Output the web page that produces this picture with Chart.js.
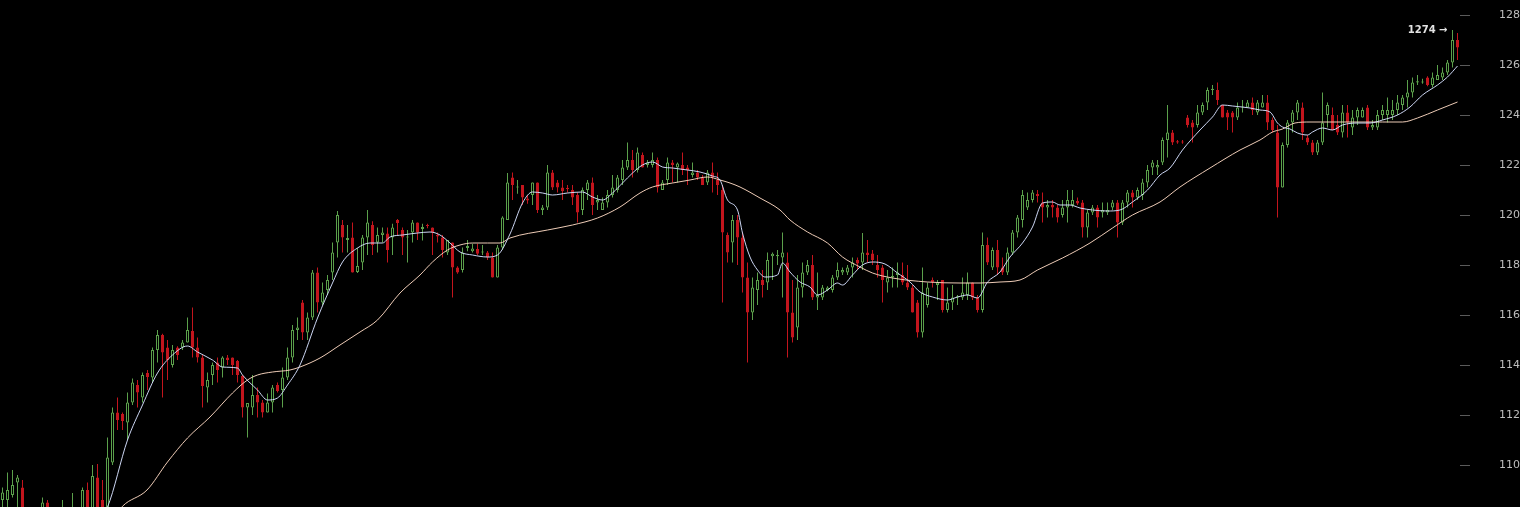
<!DOCTYPE html>
<html lang="en">
<head>
<meta charset="UTF-8">
<title>Price candles</title>
<script src="https://cdn.jsdelivr.net/npm/chart.js"></script>
<style>
  body { margin: 0; background: #000; overflow: hidden; }
  .wrap { width: 1520px; height: 507px; position: relative; }
</style>
</head>
<body>
<div class="wrap"><canvas id="chart"></canvas></div>
<script>
// OHLC per candle (index 0 = leftmost candle)
const opens = [
  1086,1086,1088,1093,1091,1082,1077,1079,1078,1085,
  1080,1077,1079,1082,1078,1081,1078,1090,1080,1095,
  1086,1082,1101,1121,1120.4,1117,1125,1132,1127,1136.8,
  1135,1146,1152,1147,1140,1147,1147,1149,1153.6,1147,
  1143,1131,1136,1141,1139,1143,1143,1141.6,1135.6,1123,
  1123,1128,1125,1121,1125,1132,1130,1135,1143,1154,
  1165,1153,1159,1177,1165,1170,1177,1189,1196,1190,
  1191,1177.2,1181,1191,1196,1189,1192,1192.6,1191,1198,
  1194,1191,1193,1197,1194.4,1196,1195,1192,1191,1185,
  1189,1179,1178,1186.8,1185.5,1186.4,1185,1185,1183,1175,
  1187,1198,1215,1211,1212,1206.6,1208,1213,1202,1203,
  1217,1213,1211,1210.8,1210,1208,1202,1210,1213,1205,
  1202,1205,1208,1210,1214,1219,1222,1218,1224,1220,
  1220,1222,1210,1214,1221,1219,1220,1219,1216,1217,
  1215,1213,1217,1214,1210,1192,1189,1198,1191,1175,
  1161,1170,1174,1173,1183.5,1183.5,1183,1181,1161,1155,
  1171,1177,1180,1167,1167,1170,1170,1175,1177,1177,
  1179,1182,1181,1185,1184.6,1180,1179,1173,1175,1176,
  1176,1173,1171,1165,1153,1164,1174,1172,1174,1162,
  1165,1167,1167,1168,1173,1167,1162,1188,1179,1186,
  1179,1177,1185,1193,1198,1203,1206,1208.4,1205,1203,
  1204,1203,1200,1203,1204,1205.6,1205,1195,1201,1203,
  1201,1201,1203,1205,1197,1205,1209,1207,1208,1213,
  1219,1219,1221,1230,1233,1229.5,1229.4,1239,1237,1236,
  1241,1245,1250,1250,1244,1241,1241,1239,1243,1243,
  1245,1241,1243,1245,1238,1233,1211,1228,1237,1241,
  1243,1231,1229,1225,1229,1240,1240,1236,1233,1241,
  1235,1239,1239,1243,1235,1235,1240,1240,1240,1242,
  1244,1247,1249,1253,1253,1255,1252,1254,1255,1257,
  1261,1270
];
const highs = [
  1091,1097,1098,1096,1094,1082.5,1081,1081,1087,1086,
  1081,1081,1086,1082.5,1088.8,1082,1091,1093,1100,1100.4,
  1094,1111,1123,1127,1121,1129,1134.6,1134,1137,1138,
  1147,1154,1152.5,1150,1148,1147.5,1150,1159,1163,1151,
  1144,1137,1141,1143,1143.5,1144,1143,1142,1136,1124.8,
  1136,1131,1126,1128.6,1132,1133,1139,1147,1156,1159,
  1166,1161,1178,1179,1173,1176,1189,1201.6,1198,1196,
  1197,1186.8,1192,1202,1197.5,1195,1195,1195,1196.5,1198.4,
  1195,1194,1198,1197,1196.5,1196.5,1195,1193,1192,1190,
  1189,1179.5,1187,1190,1188.5,1188.5,1188,1185.6,1185,1188,
  1199.5,1216.8,1217,1214,1212,1208,1213,1213,1204,1220,
  1218,1214,1214,1212,1212,1209,1211,1214,1215,1208,
  1207,1210,1216,1216,1222,1229,1226,1227,1225,1222,
  1225,1223,1214,1223,1222,1221,1225,1220,1221,1218,
  1216,1218,1221,1217,1212,1193,1200,1200,1193,1181,
  1175,1177,1178,1185,1185,1186,1193,1185,1174,1176,
  1181,1182,1184,1177,1172,1171.5,1176,1181,1179,1180,
  1183,1183,1192.8,1190,1186,1184,1180,1178,1179,1181,
  1181,1180,1172,1166,1179,1173,1175,1174,1174,1171,
  1172,1168,1175,1177,1173,1168,1193,1191,1187,1190,
  1183,1187,1194,1200,1210,1209,1210,1210,1209,1206,
  1206,1204,1206,1210,1210,1207,1206,1202,1204,1204,
  1205,1205,1206,1206,1206,1210,1210,1211,1214.5,1220,
  1222,1222,1231,1244,1234,1230,1230,1240,1238,1244,
  1245,1251,1252,1253,1244,1242,1241.6,1245,1246,1246,
  1247,1246,1248,1248,1239,1236,1229,1238,1242,1246,
  1245,1232,1230,1230,1249,1245,1243,1240,1244,1244,
  1242,1243,1243,1244,1238,1242,1244,1247,1246,1248,
  1248,1254,1255,1256,1254.5,1255.5,1257,1260,1259,1262,
  1274,1272.8
];
const lows = [
  1083,1083,1087,1083,1082,1075,1074,1074,1077,1078,
  1074,1075,1078,1075,1076,1075,1076,1077,1078,1079,
  1077,1080,1100,1114,1114,1110,1124,1123,1125,1130,
  1133,1141,1127,1134,1139,1142,1146,1149,1143,1141,
  1123,1125,1132,1133,1135,1140,1136,1133,1119,1111,
  1120,1119,1119,1121,1121,1129,1123,1134,1141,1150,
  1150,1150,1158,1161,1164,1168,1174,1183,1185,1185,
  1177,1176.8,1178,1184,1184,1185,1189,1181,1184,1192,
  1184,1181,1189,1190,1189.8,1194.7,1184,1189,1183,1184,
  1167,1176.5,1177,1185.5,1185,1184,1184,1182,1175,1175,
  1186,1198,1206,1208.5,1204,1204.5,1204,1200.8,1200,1202,
  1210,1209,1206,1209,1204,1197,1200,1206,1200,1202,
  1202,1203,1207,1209,1212,1218,1215,1217,1219,1219,
  1219,1209,1210,1212,1213,1213,1216,1212,1215,1214,
  1212,1212,1209,1208,1165,1181,1181,1180,1169,1141,
  1158,1164,1167,1170,1174,1180,1167,1143,1149,1150,
  1167,1176,1166,1162,1166,1169.5,1169,1174,1176,1176,
  1175,1178,1178,1181,1180,1175,1165,1169,1171,1171,
  1172,1170,1161,1151,1151,1163,1171,1166,1161,1161,
  1162,1164,1166,1166,1166,1161,1161,1180,1178,1176,
  1176,1176,1184,1191,1195,1202,1205,1205,1197,1199,
  1199,1197,1199,1197,1203,1204,1191,1191,1200,1195,
  1199,1200,1202,1191,1196,1203,1203,1206,1206,1211,
  1216,1216,1220,1223,1228,1228.5,1228.5,1235,1229,1235,
  1240,1242,1248,1244,1239,1234,1233,1238,1241,1243,
  1240,1240,1243,1234,1233,1199,1211,1227,1233,1238,
  1230,1228,1224,1224,1228,1235,1234,1232,1231,1231,
  1232,1236,1239,1234,1234,1234,1238,1237,1238,1240,
  1242,1243,1247,1252,1252.5,1251.5,1251,1254,1254,1256,
  1259,1262
];
const closes = [
  1089,1090,1092,1095,1083,1078,1079,1077,1085,1080,
  1077,1079,1083,1078,1082,1078,1090,1079,1095.6,1082,
  1082,1103,1121,1118,1117.6,1125,1133,1129,1136,1135.2,
  1146,1152,1145,1142,1146,1144,1149,1154,1147,1143,
  1131.6,1134,1140,1138,1143,1142,1140,1136,1123,1124.8,
  1128,1125,1121,1125,1131,1129.6,1135,1143,1154,1155,
  1153,1159,1177,1165,1169,1174,1185,1200,1191,1190.8,
  1177,1179.6,1191,1197,1188,1192,1193,1186,1195,1196.8,
  1191,1191.4,1197,1193,1195.2,1195.6,1193,1191.4,1186,1190,
  1179,1177,1185,1187.6,1186.6,1184.5,1185.4,1183,1175,1187,
  1199,1213,1212,1211.4,1207,1205.8,1213,1202,1203,1217,
  1211,1211,1209.5,1210.4,1207,1201,1210,1213,1204,1206,
  1205,1208,1211,1215,1219,1222,1218,1225,1219,1221,
  1222,1211,1213,1221,1220,1220.6,1218,1218,1217,1215,
  1212,1217,1215,1212,1193,1185,1198,1191,1175,1161,
  1171,1174,1172,1182,1184.5,1184,1185,1161,1151,1171,
  1177,1180,1167,1168,1171,1171,1175,1178,1178,1179,
  1181,1180.6,1185,1184,1182,1178,1174,1175,1175.6,1177,
  1173,1171,1161,1153,1169,1171,1173,1173,1162,1165,
  1167,1167.5,1169,1173,1167,1162,1188,1181,1186,1179,
  1177,1185,1193,1199,1208,1206,1209,1207.6,1203,1204,
  1203,1199,1203,1206,1206,1204.6,1195,1201,1203,1199,
  1202,1202,1205,1197,1205,1209,1207,1210,1213,1218,
  1221,1220,1230,1233,1229,1229,1229,1236,1235,1241,
  1244,1250,1250.5,1246,1239,1239,1239,1243,1243.4,1245,
  1242,1245,1245,1237,1234,1211,1228,1237,1241,1245,
  1233,1229,1225,1229,1237,1244,1234,1233,1241,1237,
  1239,1242,1242,1235,1236,1240,1242,1242,1242,1245,
  1247,1249,1253,1253.5,1253.4,1252,1255,1256,1257,1261,
  1270,1267
];

// moving averages, sampled along the curves (candle index, price)
const fastIdx = [18,21,25,28,31,34,37,39,42,44,47,48,51,53,55,57,59.5,63,66,68,71,73.5,76,77.5,80,83,85.5,87.5,89.5,91.5,94,97,99,101.5,104,106,108,110,113,116,118,120,122,124,126,128,130,132,134,137,139.5,142,143.5,145,147,148,149.5,151,152.5,155,156,157.5,159.5,161.5,163,165,167,168,170,172,174,176.5,179,181.5,183.5,186,189,191,193,195,197,199.5,201.5,204,206,208,210,211.5,213.5,215.5,218,221,223.5,226,229,231.5,233.5,236,239.5,242,244,246,249.5,251.5,253.5,255,256,257.5,259,261,262,264,266,268,271,273.5,276,279,281.5,284,287,289,291];
const fastVal = [1075,1083.2,1110,1124,1136.8,1144,1147.6,1145.2,1142,1139.2,1138.8,1136,1130,1126,1126.8,1132,1140,1158.8,1172.8,1181.2,1186.8,1188.8,1188.8,1191.2,1192,1192.8,1193.2,1192,1188.8,1185.2,1184,1183.2,1184,1192.4,1204.8,1209.2,1208.8,1208,1208.8,1209.2,1207.2,1206,1208.8,1212.8,1216.8,1220,1221.2,1219.2,1218.8,1218,1217.2,1215.6,1214,1206,1202,1192.8,1183.2,1178,1175.2,1176,1180.8,1177.2,1173.2,1171.2,1168,1170,1172.8,1172,1176,1180,1181.2,1180.4,1176.8,1173.2,1169.2,1167.2,1166,1167.2,1168,1166.8,1173.2,1177.2,1183.2,1188.8,1195.2,1204.8,1205.2,1204,1204,1202.8,1202,1201.6,1202,1205.2,1210,1216,1218.8,1226,1234,1239.2,1244,1243.6,1242.8,1242,1241.2,1236.8,1235.2,1234.4,1232.8,1232,1233.2,1234.8,1234,1236,1236.8,1236.8,1238,1240,1243.2,1248,1252,1255.2,1259.6];
const slowIdx = [22,24,28.9,33,37,41.5,46,49,51,54,57.5,59.5,63.5,67.5,71.5,75,79.5,83.5,86,89,91.5,94,97,99.5,101.5,109,114,119,123.5,127.5,130,134,137.5,141,143.5,145.5,147.5,151.5,155.5,157.5,161,165,168,171.5,174,178,185,191.5,195.5,199.5,203.5,207,212,217.5,222,226,231.5,235.5,241.5,247.5,251.5,254,256,258.5,261.5,264,271,276,280,283,287,289.5,291];
const slowVal = [1078,1083.5,1090,1101.2,1110.8,1119.2,1128.8,1134,1136,1137.2,1138,1139.2,1142.8,1148,1153.2,1158,1168.8,1176,1181.2,1186,1188,1188.8,1188.8,1188.8,1190.8,1194,1196,1198.8,1203.2,1208.8,1211.2,1212.8,1214,1215.2,1214,1212.8,1211.2,1206.8,1202,1198,1193.2,1188.8,1183.2,1179.2,1176.8,1174.8,1173.2,1172.8,1172.8,1173.2,1174,1178,1182.8,1188.8,1194.8,1200,1205.2,1211.2,1218.8,1226,1230,1233.2,1234.4,1236.8,1237.2,1237.2,1237.2,1237.2,1237.2,1238.8,1242,1244,1245.2];

const priceTicks = [1100, 1120, 1140, 1160, 1180, 1200, 1220, 1240, 1260, 1280];

const GREEN = '#5ba04b';
const RED = '#c3151d';
const isUp = i => closes[i] >= opens[i];

const bodies = opens.map((o, i) => ({ x: i, y: [o, closes[i]] }));
const wicks = lows.map((l, i) => ({ x: i, y: [l, highs[i]] }));
const fastLine = fastIdx.map((x, k) => ({ x: x, y: fastVal[k] }));
const slowLine = slowIdx.map((x, k) => ({ x: x, y: slowVal[k] }));

// "1274 →" marker next to the highest wick
const topMarker = {
  id: 'topMarker',
  afterDatasetsDraw(chart) {
    const top = Math.max(...highs);
    const i = highs.indexOf(top);
    const x = chart.scales.x.getPixelForValue(i) - 5;
    const y = chart.scales.y.getPixelForValue(top);
    const c = chart.ctx;
    c.save();
    c.font = 'bold 10px "DejaVu Sans"';
    c.fillStyle = '#e2e2e2';
    c.textAlign = 'right';
    c.textBaseline = 'middle';
    c.fillText(top + ' \u2192', x, y);
    c.restore();
  }
};

new Chart(document.getElementById('chart'), {
  type: 'bar',
  data: {
    datasets: [
      { type: 'line', data: fastLine, borderColor: 'rgba(214,224,255,0.95)', borderWidth: 1,
        pointRadius: 0, cubicInterpolationMode: 'monotone', order: 0 },
      { type: 'line', data: slowLine, borderColor: 'rgba(250,214,192,0.95)', borderWidth: 1,
        pointRadius: 0, cubicInterpolationMode: 'monotone', order: 0 },
      { data: bodies, barThickness: 3, minBarLength: 1, grouped: false,
        borderSkipped: false, inflateAmount: 0, borderWidth: 1,
        backgroundColor: c => isUp(c.dataIndex) ? '#000' : RED,
        borderColor: c => isUp(c.dataIndex) ? GREEN : RED, order: 1 },
      { data: wicks, barThickness: 1, grouped: false, borderWidth: 0, inflateAmount: 0,
        backgroundColor: c => isUp(c.dataIndex) ? GREEN : RED, order: 2 }
    ]
  },
  options: {
    responsive: true,
    maintainAspectRatio: false,
    animation: false,
    events: [],
    layout: { padding: 0 },
    plugins: { legend: { display: false }, tooltip: { enabled: false } },
    scales: {
      x: { type: 'linear', min: -0.5, max: 291.5, offset: false, display: false },
      y: {
        position: 'right', min: 1083.2, max: 1286, beginAtZero: false,
        afterBuildTicks: s => { s.ticks = priceTicks.map(v => ({ value: v })); },
        afterFit: s => {
          s.width = 60;
          s.paddingTop = 0; s.paddingBottom = 0; s.paddingLeft = 0; s.paddingRight = 0;
        },
        border: { display: false },
        grid: { drawOnChartArea: false, color: '#5a5a5a', tickLength: 10 },
        ticks: { color: '#bdbdbd', padding: 29, font: { family: 'DejaVu Sans', size: 11 },
                 callback: v => String(v) }
      }
    }
  },
  plugins: [topMarker]
});
</script>
</body>
</html>
